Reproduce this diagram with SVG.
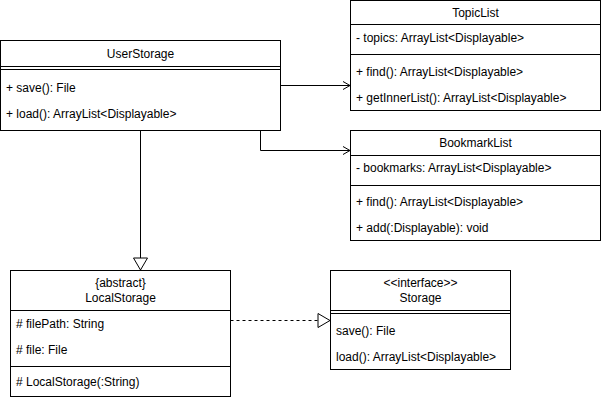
<svg xmlns="http://www.w3.org/2000/svg" width="601" height="400" viewBox="0 0 601 400">
<style>
.box{fill:#fff;stroke:#000;stroke-width:1}
.ln{stroke:#000;stroke-width:1;fill:none}
text{font-family:"Liberation Sans",Arial,sans-serif;font-size:12px;fill:#000}
.c{text-anchor:middle}
</style>
<defs>
<marker id="open" markerWidth="10" markerHeight="10" refX="8" refY="5" orient="auto" markerUnits="userSpaceOnUse">
<path d="M1,1 L8,5 L1,9" fill="none" stroke="#000" stroke-width="1"/>
</marker>
<marker id="tri" markerWidth="16" markerHeight="16" refX="13" refY="8" orient="auto" markerUnits="userSpaceOnUse">
<path d="M1,1 L13,8 L1,15 Z" fill="#fff" stroke="#000" stroke-width="1"/>
</marker>
</defs>
<rect width="601" height="400" fill="#fff"/>
<g id="connectors">
<path class="ln" d="M280.5,85.5 L350,85.5" marker-end="url(#open)"/>
<path class="ln" d="M260.5,130 L260.5,150.5 L350,150.5" marker-end="url(#open)"/>
<path class="ln" d="M140.5,130 L140.5,270" marker-end="url(#tri)"/>
<path class="ln" d="M230.5,320.5 L330,320.5" stroke-dasharray="3,3" marker-end="url(#tri)"/>
</g>
<g id="UserStorage">
<rect class="box" x="0.5" y="40.5" width="280" height="90"/>
<line class="ln" x1="0.5" y1="66.5" x2="280.5" y2="66.5"/>
<line class="ln" x1="0.5" y1="69.5" x2="280.5" y2="69.5"/>
<text class="c" x="140.5" y="57.5">UserStorage</text>
<text x="6" y="92">+ save(): File</text>
<text x="6" y="118">+ load(): ArrayList&lt;Displayable&gt;</text>
</g>
<g id="TopicList">
<rect class="box" x="350.5" y="0.5" width="250" height="110"/>
<line class="ln" x1="350.5" y1="24.5" x2="600.5" y2="24.5"/>
<line class="ln" x1="350.5" y1="54.5" x2="600.5" y2="54.5"/>
<text class="c" x="475.5" y="17">TopicList</text>
<text x="356" y="42">- topics: ArrayList&lt;Displayable&gt;</text>
<text x="356" y="76">+ find(): ArrayList&lt;Displayable&gt;</text>
<text x="356" y="102">+ getInnerList(): ArrayList&lt;Displayable&gt;</text>
</g>
<g id="BookmarkList">
<rect class="box" x="350.5" y="130.5" width="250" height="110"/>
<line class="ln" x1="350.5" y1="155.5" x2="600.5" y2="155.5"/>
<line class="ln" x1="350.5" y1="185.5" x2="600.5" y2="185.5"/>
<text class="c" x="475.5" y="147">BookmarkList</text>
<text x="356" y="172">- bookmarks: ArrayList&lt;Displayable&gt;</text>
<text x="356" y="206">+ find(): ArrayList&lt;Displayable&gt;</text>
<text x="356" y="232">+ add(:Displayable): void</text>
</g>
<g id="LocalStorage">
<rect class="box" x="10.5" y="270.5" width="220" height="126"/>
<line class="ln" x1="10.5" y1="310.5" x2="230.5" y2="310.5"/>
<line class="ln" x1="10.5" y1="366.5" x2="230.5" y2="366.5"/>
<text class="c" x="120.5" y="287">{abstract}</text>
<text class="c" x="120.5" y="302">LocalStorage</text>
<text x="16" y="328"># filePath: String</text>
<text x="16" y="354"># file: File</text>
<text x="16" y="386"># LocalStorage(:String)</text>
</g>
<g id="Storage">
<rect class="box" x="330.5" y="270.5" width="180" height="99"/>
<line class="ln" x1="330.5" y1="310.5" x2="510.5" y2="310.5"/>
<line class="ln" x1="330.5" y1="313.5" x2="510.5" y2="313.5"/>
<text class="c" x="420.5" y="287">&lt;&lt;interface&gt;&gt;</text>
<text class="c" x="420.5" y="302">Storage</text>
<text x="336" y="335">save(): File</text>
<text x="336" y="361">load(): ArrayList&lt;Displayable&gt;</text>
</g>
</svg>
